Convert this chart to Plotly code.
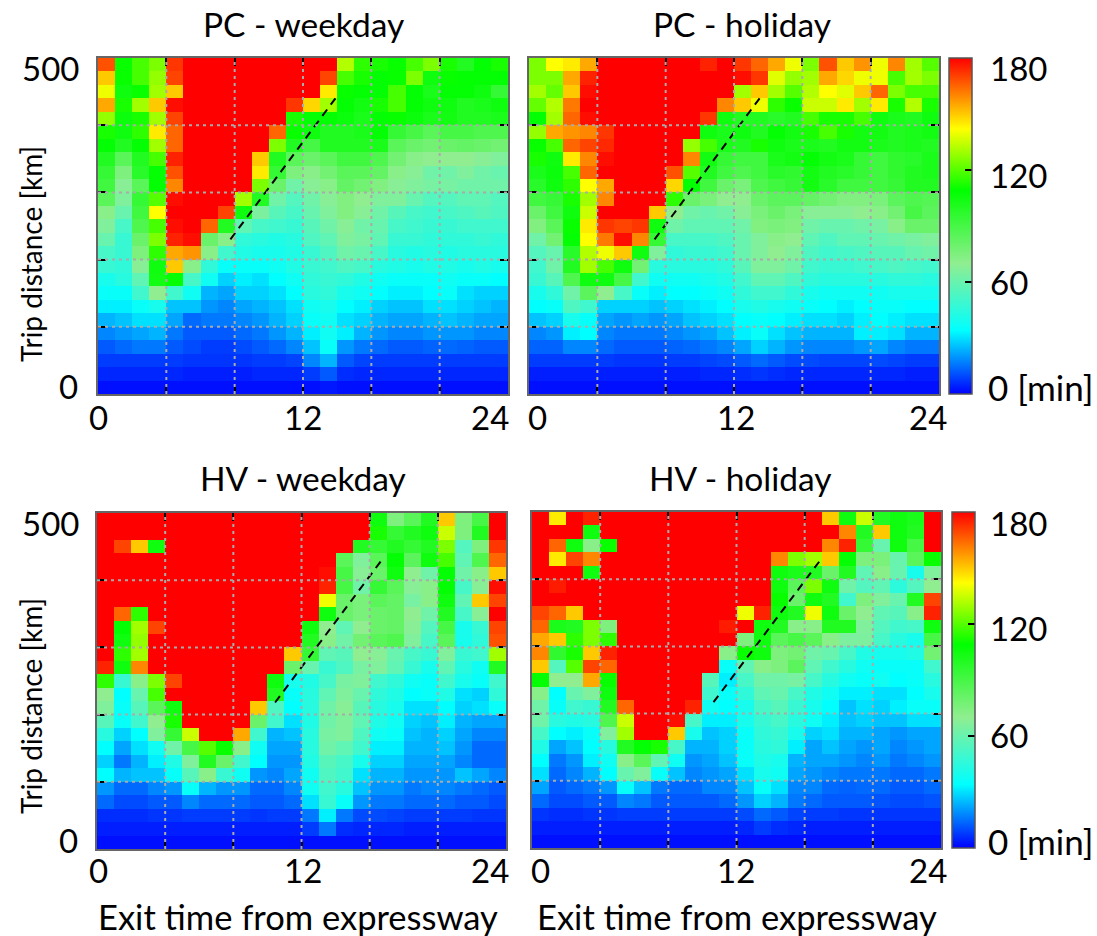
import plotly.graph_objects as go

HOURS = [0.5,1.5,2.5,3.5,4.5,5.5,6.5,7.5,8.5,9.5,10.5,11.5,12.5,13.5,14.5,15.5,16.5,17.5,18.5,19.5,20.5,21.5,22.5,23.5]
DISTANCE_KM = [490,470,450,430,410,390,370,350,330,310,290,270,250,230,210,190,170,150,130,110,90,70,50,30,10]
X_TICKS = [0,4,8,12,16,20,24]
Y_TICKS = [0,100,200,300,400,500]
CB_TICKS = [60,120]
TITLES = ["PC - weekday","PC - holiday","HV - weekday","HV - holiday"]

PC_WEEKDAY = [
[168,110,118,125,172,180,180,180,180,180,180,180,180,180,132,115,112,110,118,125,112,100,108,112],
[150,110,118,128,170,180,180,180,180,180,180,180,180,170,118,112,108,110,125,105,110,108,108,108],
[140,105,110,130,150,180,180,180,180,180,180,180,180,145,110,108,108,118,108,102,108,108,105,95],
[155,112,130,150,178,180,180,180,180,180,180,172,148,130,108,104,112,118,108,105,105,100,102,105],
[128,106,112,130,170,180,180,180,180,180,180,112,108,108,106,102,108,110,106,102,104,100,100,102],
[112,105,115,145,165,180,180,180,180,180,165,110,105,100,100,102,108,95,90,85,90,90,88,88],
[108,100,108,130,165,180,180,180,180,180,125,100,90,100,100,100,102,85,80,78,80,82,80,78],
[100,85,100,118,175,180,180,180,180,150,100,85,80,85,92,92,88,78,72,70,70,70,68,66],
[95,75,98,108,168,180,180,180,180,145,95,75,72,78,85,85,82,72,68,62,62,66,62,60],
[92,68,85,108,160,180,180,180,180,125,80,62,68,72,82,78,74,68,66,64,64,62,62,62],
[85,66,95,120,178,180,180,180,130,100,62,55,62,68,74,70,66,66,60,55,55,58,58,55],
[72,60,92,142,180,180,180,170,105,65,56,52,60,66,74,68,62,56,52,50,52,54,56,54],
[66,52,88,118,178,180,165,100,58,52,50,48,56,62,68,62,60,52,50,48,48,50,50,50],
[60,48,80,125,175,178,80,72,46,44,42,44,54,58,66,64,58,48,48,46,46,46,48,46],
[52,48,75,115,155,158,72,50,42,40,40,42,48,54,62,60,52,44,42,44,42,44,44,44],
[48,46,68,105,150,72,46,36,36,36,38,42,48,50,54,52,44,42,40,42,42,40,42,40],
[40,44,58,104,108,52,38,28,32,30,34,38,46,48,46,42,38,36,36,36,38,36,36,34],
[36,36,50,70,50,38,24,22,28,28,30,34,44,46,40,38,34,32,32,34,36,30,28,28],
[32,32,36,40,26,26,20,18,22,24,26,30,38,40,34,32,28,26,26,30,30,28,26,24],
[24,26,30,30,22,14,16,16,18,20,24,28,36,38,30,28,24,22,22,24,26,24,22,22],
[18,20,22,24,16,12,12,12,14,16,20,24,32,38,32,24,20,18,18,20,20,20,18,18],
[12,14,16,16,12,10,8,8,10,12,14,18,26,36,20,16,14,12,12,13,14,13,12,12],
[8,8,8,8,8,7,7,7,7,8,8,9,18,24,12,9,8,8,8,8,8,8,8,8],
[5,5,5,5,5,4,4,4,4,5,5,5,8,12,6,5,5,5,5,5,5,5,5,5],
[2,2,2,2,2,2,2,2,2,2,2,2,2,3,2,2,2,2,2,2,2,2,2,2],
]

PC_HOLIDAY = [
[125,142,145,155,180,180,180,180,180,180,175,180,172,165,155,140,125,168,150,158,140,160,130,120],
[125,125,155,175,180,180,180,180,180,180,180,180,178,172,138,128,130,155,148,140,140,118,130,125],
[130,122,150,178,180,180,180,180,180,180,180,180,130,150,130,120,132,142,138,150,165,125,118,118],
[122,132,162,180,180,180,180,180,180,180,180,160,150,140,115,110,135,135,145,130,145,112,132,112],
[108,130,165,178,180,180,180,180,180,180,172,105,100,100,98,100,118,112,112,118,105,102,100,105],
[128,155,158,160,172,180,180,180,180,180,105,102,105,100,108,104,112,118,112,104,104,100,102,104],
[110,118,165,170,174,180,180,180,180,128,118,102,100,112,105,102,102,100,104,104,102,100,102,100],
[112,105,145,160,178,180,180,180,180,160,104,95,92,92,102,104,108,104,102,95,92,96,98,102],
[102,106,118,165,180,180,180,180,168,120,100,92,88,92,98,96,104,100,98,94,92,96,100,102],
[98,105,115,142,155,180,180,180,148,108,92,80,76,88,92,94,104,98,92,92,92,94,100,100],
[92,94,112,130,160,180,180,180,115,80,76,70,70,80,84,84,82,78,74,74,76,84,88,86],
[80,92,105,135,180,180,180,150,70,62,60,62,68,76,80,76,68,68,68,70,72,78,90,84],
[74,85,110,145,172,170,172,105,62,58,58,58,62,74,76,74,62,60,60,62,64,72,80,80],
[62,78,108,142,162,178,160,95,52,52,52,54,60,66,72,70,58,54,58,58,60,62,64,66],
[55,60,98,132,140,150,105,66,46,48,48,50,60,66,70,66,54,50,52,54,56,56,60,62],
[50,62,100,130,118,105,78,44,44,44,44,46,56,66,66,62,50,48,48,50,52,54,52,50],
[48,56,88,105,105,90,50,38,38,38,40,42,50,58,58,54,46,44,44,44,44,46,46,44],
[40,46,62,84,70,52,36,32,34,34,36,38,46,50,50,46,40,38,38,38,38,40,40,40],
[34,36,54,50,28,28,28,26,28,30,32,34,40,42,40,38,36,34,32,34,36,36,34,34],
[26,28,40,36,22,20,22,20,22,26,28,30,34,36,34,32,30,30,28,32,34,32,30,30],
[18,20,32,34,18,16,16,16,18,20,22,26,32,36,30,26,24,24,24,32,32,30,24,24],
[13,13,18,18,14,12,12,12,13,14,16,18,22,28,24,20,18,18,18,20,22,18,16,16],
[8,8,8,8,8,7,7,7,8,8,9,10,12,14,12,10,10,9,9,9,10,9,8,8],
[4,4,4,4,4,4,4,4,4,4,5,5,6,7,6,5,5,5,5,5,5,5,4,4],
[2,2,2,2,2,2,2,2,2,2,2,2,2,2,2,2,2,2,2,2,2,2,2,2],
]

HV_WEEKDAY = [
[180,180,180,180,180,180,180,180,180,180,180,180,180,180,180,180,105,75,85,100,150,75,90,180],
[180,180,180,180,180,180,180,180,180,180,180,180,180,180,180,180,112,95,100,105,135,75,100,180],
[180,170,150,105,180,180,180,180,180,180,180,180,180,180,180,100,95,100,95,100,125,55,75,172],
[180,180,180,180,180,180,180,180,180,180,180,180,180,180,85,66,85,108,84,105,118,58,88,165],
[180,180,180,180,180,180,180,180,180,180,180,180,180,178,90,68,80,105,70,62,108,62,72,150],
[180,180,180,180,180,180,180,180,180,180,180,180,180,175,90,62,95,85,68,72,108,52,68,178],
[180,180,180,180,180,180,180,180,180,180,180,180,180,140,80,76,85,82,64,72,105,58,150,170],
[180,165,115,180,180,180,180,180,180,180,180,180,180,105,80,76,80,82,70,62,100,52,68,180],
[180,108,130,170,180,180,180,180,180,180,180,180,105,70,58,70,80,82,68,55,90,40,48,170],
[180,105,128,180,180,180,180,180,180,180,180,180,100,72,62,78,85,88,66,52,85,40,46,168],
[180,115,130,180,180,180,180,180,180,180,180,150,95,58,56,70,68,60,52,48,66,48,50,130],
[175,105,160,180,180,180,180,180,180,180,180,80,60,48,54,64,66,58,48,40,58,44,38,100],
[115,48,72,125,170,180,180,180,180,180,105,40,42,52,64,66,50,46,38,36,50,40,36,50],
[70,34,60,118,180,180,180,180,180,180,100,36,44,58,66,60,46,42,34,36,42,30,28,46],
[66,36,56,85,105,180,180,180,180,150,54,34,44,62,68,56,44,40,30,30,34,28,30,36],
[56,36,50,70,112,180,180,180,180,80,50,30,42,62,66,58,42,38,28,26,32,24,22,22],
[44,28,34,66,95,135,180,180,155,50,24,26,44,64,66,54,38,36,26,24,28,22,18,18],
[34,22,30,38,62,90,120,110,72,38,22,22,44,62,58,50,32,32,24,24,26,20,14,14],
[28,16,24,32,42,66,100,80,50,34,20,20,42,56,52,40,28,28,22,22,22,18,14,14],
[34,24,26,26,36,56,72,48,38,20,18,22,38,54,50,30,24,24,20,20,20,26,22,18],
[20,14,14,18,20,36,24,20,20,14,14,18,38,50,44,26,20,20,16,18,18,16,14,12],
[14,10,10,12,12,18,14,14,14,12,12,14,30,48,36,20,16,16,14,14,14,12,12,10],
[6,6,6,7,7,8,8,8,8,7,8,8,16,32,16,10,10,9,8,8,8,8,7,7],
[4,4,4,4,4,4,4,4,4,4,4,4,8,16,6,5,5,5,4,4,4,4,4,4],
[2,2,2,2,2,2,2,2,2,2,2,2,2,2,2,2,2,2,2,2,2,2,2,2],
]

HV_HOLIDAY = [
[180,145,180,175,180,180,180,180,180,180,180,180,180,180,180,180,180,150,105,135,100,105,102,180],
[180,180,180,105,180,180,180,180,180,180,180,180,180,180,180,180,180,180,160,100,150,105,100,180],
[180,165,105,72,110,180,180,180,180,180,180,180,180,180,180,180,180,160,175,95,60,105,90,180],
[180,145,170,160,180,180,180,180,180,180,180,180,180,180,160,125,130,150,108,75,76,60,85,110],
[180,180,180,105,180,180,180,180,180,180,180,180,180,180,105,102,100,80,100,58,72,60,40,66],
[180,176,180,180,180,180,180,180,180,180,180,180,180,180,105,85,125,105,62,55,58,45,55,70],
[180,180,180,180,180,180,180,180,180,180,180,180,180,180,110,80,105,100,50,75,66,60,100,170],
[170,165,150,180,180,180,180,180,180,180,180,180,140,175,105,100,140,105,80,70,58,56,72,175],
[165,102,100,125,75,180,180,180,180,180,180,176,180,105,100,72,72,100,100,66,55,50,52,105],
[155,150,115,125,115,180,180,180,180,180,180,180,75,105,85,90,85,72,65,65,52,44,40,90],
[160,96,112,150,175,180,180,180,180,180,180,72,110,105,75,78,62,60,52,42,40,40,42,78],
[150,55,120,170,165,180,180,180,180,180,180,36,58,72,75,84,58,50,44,38,36,36,36,50],
[108,70,70,155,110,180,180,180,180,180,56,32,52,62,62,64,52,44,38,36,38,34,36,44],
[72,34,60,66,105,180,180,180,180,180,50,36,46,58,60,52,42,38,32,32,30,30,34,40],
[62,36,50,48,100,165,180,180,180,175,38,34,40,52,56,48,40,34,26,30,28,32,36,36],
[62,44,42,44,88,135,180,180,178,52,32,32,40,48,52,44,38,32,26,28,26,26,30,30],
[52,34,32,36,66,130,180,180,150,40,26,28,36,46,48,40,28,30,24,24,22,20,22,22],
[42,22,26,34,44,100,108,112,52,24,24,28,36,44,46,32,22,26,22,20,22,18,20,22],
[34,16,20,32,38,72,85,58,38,20,22,26,36,42,40,24,22,22,20,18,20,16,18,20],
[30,14,18,24,34,60,66,36,26,18,20,22,30,40,38,22,20,18,16,16,16,14,14,16],
[22,12,14,16,20,36,26,16,14,14,18,18,26,36,30,18,18,14,13,14,14,12,12,14],
[14,10,10,12,12,18,16,12,12,12,12,14,20,28,24,16,14,12,12,12,11,10,10,11],
[7,6,6,7,7,8,8,8,8,8,8,8,10,14,12,9,8,8,7,7,7,7,7,7],
[4,4,4,4,4,4,4,4,4,4,4,4,5,8,6,5,4,4,4,4,4,4,4,4],
[2,2,2,2,2,2,2,2,2,2,2,2,2,2,2,2,2,2,2,2,2,2,2,2],
]

PANELS = [PC_WEEKDAY, PC_HOLIDAY, HV_WEEKDAY, HV_HOLIDAY]
LINE_X = [[7.75,13.9],[7.35,13.5],[10.45,16.65],[10.65,16.85]]
LINE_Y = [[230,440],[230,440],[218,428],[217,426]]

W, H = 1097, 936
BOXES = [(98,508,58,394),(529,939,58,394),(97,506,513,849),(532,941,512,848)]
CBARS = [(949,972,58,394),(952,975,512,848)]
FONT = "Lato"
TICK_SIZE = 33
TITLE_SIZE = 33.5
XLABEL_SIZE = 34.5
YLABEL_SIZE = 28
MIN_SIZE = 35
GRID = dict(color="rgb(170,170,170)", width=2, dash="3px,4px")
STOPS = [[0,"rgb(0,0,255)"],[34/180,"rgb(0,255,255)"],[70/180,"rgb(144,238,144)"],
         [109/180,"rgb(0,255,0)"],[142/180,"rgb(255,255,0)"],[1,"rgb(255,0,0)"]]

fig = go.Figure()
layout = dict(width=W, height=H, margin=dict(l=0,r=0,t=0,b=0), paper_bgcolor="white",
              plot_bgcolor="white", showlegend=False, font=dict(family=FONT,size=TICK_SIZE,color="black"))
shapes, notes = [], []

def note(x, y, text, size, angle=0, anchor="center"):
    notes.append(dict(x=x/W, y=1-y/H, xref="paper", yref="paper", text=text, showarrow=False,
                      textangle=angle, xanchor=anchor, yanchor="middle", font=dict(size=size,family=FONT,color="black")))

for i, (z, box) in enumerate(zip(PANELS, BOXES)):
    n = "" if i == 0 else str(i+1)
    l, r, t, b = box
    ca = "coloraxis" if i < 2 else "coloraxis2"
    fig.add_trace(go.Heatmap(x=HOURS, y=DISTANCE_KM, z=z, coloraxis=ca, xaxis="x"+n, yaxis="y"+n))
    fig.add_trace(go.Scatter(x=LINE_X[i], y=LINE_Y[i], mode="lines", xaxis="x"+n, yaxis="y"+n,
                             line=dict(color="black", width=2, dash="8px,6px")))
    ax = dict(range=[0,24], tickmode="array", tickvals=X_TICKS, ticks="inside", ticklen=8, tickwidth=1.5,
              tickcolor="black", showticklabels=False, showgrid=False, zeroline=False, mirror="allticks",
              showline=True, linecolor="#666666", linewidth=1.5, anchor="y"+n, domain=[l/W, r/W])
    ay = dict(range=[0,500], tickmode="array", tickvals=Y_TICKS, ticks="inside", ticklen=8, tickwidth=1.5,
              tickcolor="black", showticklabels=False, showgrid=False, zeroline=False, mirror="allticks",
              showline=True, linecolor="#666666", linewidth=1.5, anchor="x"+n, domain=[1-b/H, 1-t/H])
    layout["xaxis"+n] = ax
    layout["yaxis"+n] = ay
    for xv in X_TICKS[1:-1]:
        shapes.append(dict(type="line", xref="x"+n, yref="y"+n, x0=xv, x1=xv, y0=0, y1=500, layer="above", line=GRID))
    for yv in Y_TICKS[1:-1]:
        shapes.append(dict(type="line", xref="x"+n, yref="y"+n, x0=0, x1=24, y0=yv, y1=yv, layer="above", line=GRID))

for j, (l, r, t, b) in enumerate(CBARS):
    key = "coloraxis" if j == 0 else "coloraxis2"
    layout[key] = dict(cmin=0, cmax=180, colorscale=STOPS, colorbar=dict(
        x=l/W, xanchor="left", xpad=0, ypad=0, y=1-b/H, yanchor="bottom", lenmode="pixels", len=b-t,
        thicknessmode="pixels", thickness=r-l, outlinecolor="#555555", outlinewidth=1.5,
        tickmode="array", tickvals=CB_TICKS, ticks="inside", ticklen=7, tickwidth=1.5, tickcolor="black",
        showticklabels=False))
    for v in CB_TICKS:
        py = b - (b-t)*v/180
        shapes.append(dict(type="line", xref="paper", yref="paper", x0=l/W, x1=(l+7)/W, y0=1-py/H, y1=1-py/H,
                           layer="above", line=dict(color="black", width=1.5)))

for x, y, s in [(303,24,TITLES[0]),(742,24,TITLES[1]),(303,478,TITLES[2]),(740,478,TITLES[3])]:
    note(x, y, s, TITLE_SIZE)
for x, y in [(31,254),(31,706)]:
    note(x, y, "Trip distance [km]", YLABEL_SIZE, angle=-90)
for x, y in [(298,916),(737,916)]:
    note(x, y, "Exit time from expressway", XLABEL_SIZE)
for x0, x1, x2, y in [(98,303,490,417),(537,736,928,417),(98,303,490,870),(540,736,928,870)]:
    note(x0, y, "0", TICK_SIZE); note(x1, y, "12", TICK_SIZE); note(x2, y, "24", TICK_SIZE)
for y500, y0 in [(68,386),(523,840)]:
    note(50, y500, "500", TICK_SIZE); note(68, y0, "0", TICK_SIZE)
for ys in [(68,175,282,387),(523,628,735,841)]:
    for y, s in zip(ys, ["180","120","60"]):
        note(988, y, s, TICK_SIZE, anchor="left")
    note(986, ys[3], "0 [min]", MIN_SIZE, anchor="left")

layout["shapes"] = shapes
layout["annotations"] = notes
fig.update_layout(**layout)
fig.write_html("out.html", post_script="document.body.style.margin='0';", config={"displayModeBar": False})
